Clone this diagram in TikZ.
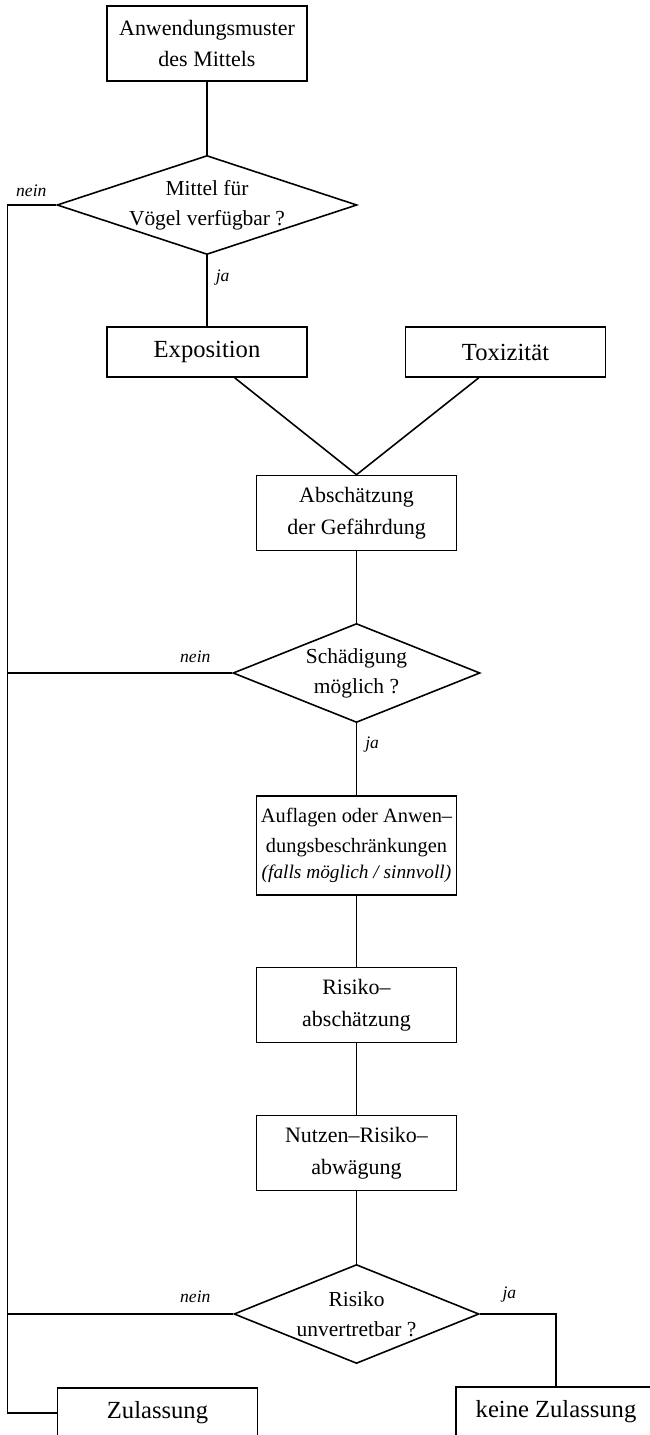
\documentclass[tikz,border=0pt]{standalone}
\usepackage{fontspec}
\setmainfont{Liberation Serif}
\usetikzlibrary{shapes.geometric,positioning}

\begin{document}
\begin{tikzpicture}
[line width=.9pt,
 box/.style={draw,rectangle,inner sep=0pt,align=center,minimum width=4cm,minimum height=1.5cm,font=\fontsize{12.5}{18}\selectfont},
 bigbox/.style={box,minimum height=1cm,font=\fontsize{14}{18}\selectfont},
 dec/.style={draw,diamond,inner sep=0pt,minimum height=1.98cm},
 dectext/.style={align=center,font=\fontsize{12.2}{17}\selectfont},
 ans/.style={inner sep=0pt,font=\fontsize{10}{12}\selectfont\itshape}]
\useasboundingbox (0,0) rectangle (12.98,-28.7);
\node[box] (anw) at (4.14,-0.87) {Anwendungsmuster\\des Mittels};
\node[dec,minimum width=6cm,label={[dectext]center:Mittel für\\Vögel verfügbar ?}] (d1) at (4.14,-4.1) {};
\node[bigbox] (expo) at (4.14,-7.04) {Exposition};
\node[bigbox] (tox) at (10.11,-7.04) {Toxizität};
\node[box] (absch) at (7.13,-10.26) {Abschätzung\\der Gefährdung};
\node[dec,minimum width=4.94cm,label={[dectext]center:Schädigung\\möglich ?}] (d2) at (7.13,-13.46) {};
\node[box,minimum height=1.98cm,font=\fontsize{11.6}{17}\selectfont] (aufl) at (7.13,-16.91) {Auflagen oder Anwen--\\dungsbeschränkungen\\[-2pt]{\fontsize{11}{14}\selectfont\itshape(falls möglich / sinnvoll)}};
\node[box] (risiko) at (7.13,-20.1) {Risiko--\\abschätzung};
\node[box] (nutzen) at (7.13,-23.06) {Nutzen--Risiko--\\abwägung};
\node[dec,minimum width=4.9cm,label={[dectext]center:Risiko\\unvertretbar ?}] (d3) at (7.13,-26.28) {};
\node[bigbox] (zul) at (3.15,-28.26) {Zulassung};
\node[bigbox] (kz) at (11.12,-28.24) {keine Zulassung};
\coordinate (rail) at (0.15,-4.1);
% yes / no labels
\node[ans,above left=0.16cm and 0.18cm of d1.west] (n1) {nein};
\node[ans,below right=0.28cm and 0.16cm of d1.south] (j1) {ja};
\node[ans,above left=0.2cm and 0.42cm of d2.west] (n2) {nein};
\node[ans,below right=0.26cm and 0.16cm of d2.south] (j2) {ja};
\node[ans,above left=0.22cm and 0.44cm of d3.west] (n3) {nein};
\node[ans,above right=0.22cm and 0.44cm of d3.east] (j3) {ja};
\foreach \from/\to in {anw/d1,d1/expo,absch/d2,d2/aufl,aufl/risiko,risiko/nutzen,nutzen/d3}
\draw (\from) -- (\to);
\draw (expo.-43) -- (absch.north);
\draw (tox.-136) -- (absch.north);
\draw (d1.west) -- (rail) |- (zul.west);
\draw (d2.west) -- (d2.west -| rail);
\draw (d3.west) -- (d3.west -| rail);
\draw (d3.east) -| (kz.north);
\end{tikzpicture}
\end{document}
